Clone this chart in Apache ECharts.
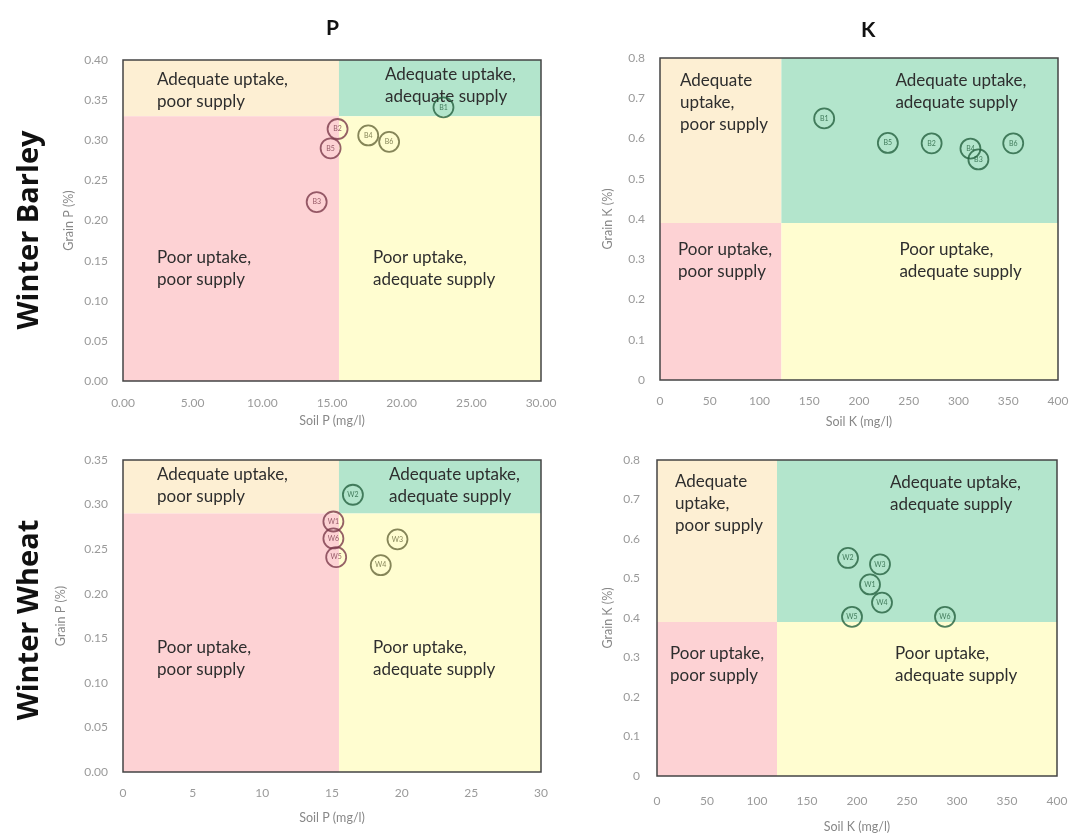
<!DOCTYPE html>
<html><head><meta charset="utf-8">
<script src="https://cdn.jsdelivr.net/npm/echarts@6/dist/echarts.min.js"></script>
<style>html,body{margin:0;padding:0;background:#fff}#c{width:1077px;height:837px}</style>
</head><body><div id="c"></div>
<script>
// ---- Data ----
const barleyLabels = ['B1','B2','B3','B4','B5','B6'];
const barleySoilP  = [23.0, 15.4, 13.9, 17.6, 14.9, 19.1];
const barleyGrainP = [0.341, 0.314, 0.223, 0.306, 0.290, 0.298];
const barleySoilK  = [165, 273, 320, 312, 229, 355];
const barleyGrainK = [0.650, 0.588, 0.548, 0.575, 0.589, 0.588];

const wheatLabelsP = ['W2','W1','W6','W5','W3','W4'];
const wheatSoilP   = [16.5, 15.1, 15.1, 15.3, 19.7, 18.5];
const wheatGrainP  = [0.311, 0.281, 0.262, 0.241, 0.261, 0.232];
const wheatLabelsK = ['W1','W2','W3','W4','W5','W6'];
const wheatSoilK   = [213, 191, 223, 225, 195, 288];
const wheatGrainK  = [0.485, 0.552, 0.536, 0.439, 0.403, 0.403];

// thresholds (supply, uptake) per panel
const thrBarleyP = [15.5, 0.33];
const thrBarleyK = [122, 0.39];
const thrWheatP  = [15.5, 0.29];
const thrWheatK  = [120, 0.39];

const axisP1 = {xmax: 30, xint: 5, ymax: 0.40, yint: 0.05};
const axisK  = {xmax: 400, xint: 50, ymax: 0.8, yint: 0.1};
const axisP2 = {xmax: 30, xint: 5, ymax: 0.35, yint: 0.05};

const regionText = {
  apBar: 'Adequate uptake,\npoor supply',
  apK: 'Adequate\nuptake,\npoor supply',
  aa: 'Adequate uptake,\nadequate supply',
  pp: 'Poor uptake,\npoor supply',
  pa: 'Poor uptake,\nadequate supply'
};

// ---- Styles ----
const C = {tan:'#fdefd3', green:'#b3e5cc', pink:'#fdd2d4', yellow:'#fffdd0'};
const SC = {green:'#24603f', pink:'#7a3a4a', yellow:'#66663a', tan:'#6a5a3a'};
const FONT = 'Lato, "Open Sans", sans-serif';

const grids = [
  {left:123, top:60,  width:418, height:321},
  {left:660, top:58,  width:398, height:322},
  {left:123, top:460, width:418, height:312},
  {left:657, top:460, width:400, height:316}
];

const panels = [
  {xs: barleySoilP, ys: barleyGrainP, labs: barleyLabels, thr: thrBarleyP, ax: axisP1,
   xfmt: v => v.toFixed(2), yfmt: v => v.toFixed(2), xname:'Soil P (mg/l)', yname:'Grain P (%)',
   xgap:33, ygap:48, xmargin:16, ymargin:15, tl: regionText.apBar,
   off: {tl:[34,9], tr:[46,4], bl:[34,130], br:[34,130]}},
  {xs: barleySoilK, ys: barleyGrainK, labs: barleyLabels, thr: thrBarleyK, ax: axisK,
   xfmt: v => String(v), yfmt: v => v === 0 ? '0' : v.toFixed(1), xname:'Soil K (mg/l)', yname:'Grain K (%)',
   xgap:35, ygap:46, xmargin:15, ymargin:15, tl: regionText.apK,
   off: {tl:[20,12], tr:[114,12], bl:[18,15], br:[118,15]}},
  {xs: wheatSoilP, ys: wheatGrainP, labs: wheatLabelsP, thr: thrWheatP, ax: axisP2,
   xfmt: v => String(v), yfmt: v => v.toFixed(2), xname:'Soil P (mg/l)', yname:'Grain P (%)',
   xgap:39, ygap:56, xmargin:15, ymargin:15, tl: regionText.apBar,
   off: {tl:[34,4], tr:[50,4], bl:[34,123], br:[34,123]}},
  {xs: wheatSoilK, ys: wheatGrainK, labs: wheatLabelsK, thr: thrWheatK, ax: axisK,
   xfmt: v => String(v), yfmt: v => v === 0 ? '0' : v.toFixed(1), xname:'Soil K (mg/l)', yname:'Grain K (%)',
   xgap:44, ygap:43, xmargin:19, ymargin:17, tl: regionText.apK,
   off: {tl:[18,11], tr:[113,12], bl:[13,21], br:[118,21]}}
];

const xAxes = [], yAxes = [], series = [];
const regionLabel = (txt, off) => ({
  show: true, position: 'insideTopLeft', distance: 0, offset: off,
  formatter: txt, color: '#2e2e2e', fontSize: 17, lineHeight: 22, fontFamily: FONT
});

panels.forEach((p, i) => {
  xAxes.push({
    gridIndex: i, type: 'value', min: 0, max: p.ax.xmax, interval: p.ax.xint,
    axisLine: {show: false}, axisTick: {show: false}, splitLine: {show: false},
    axisLabel: {formatter: p.xfmt, color: '#9a9a9a', fontSize: 12, fontFamily: FONT, margin: p.xmargin},
    name: p.xname, nameLocation: 'middle', nameGap: p.xgap,
    nameTextStyle: {color: '#888', fontSize: 12.5, fontFamily: FONT}
  });
  yAxes.push({
    gridIndex: i, type: 'value', min: 0, max: p.ax.ymax, interval: p.ax.yint,
    axisLine: {show: false}, axisTick: {show: false}, splitLine: {show: false},
    axisLabel: {formatter: p.yfmt, color: '#9a9a9a', fontSize: 12, fontFamily: FONT, margin: p.ymargin},
    name: p.yname, nameLocation: 'middle', nameGap: p.ygap,
    nameTextStyle: {color: '#888', fontSize: 12.5, fontFamily: FONT}
  });
  const [xb, yb] = p.thr;
  series.push({
    type: 'scatter', xAxisIndex: i, yAxisIndex: i, data: [], z: 1, silent: true,
    markArea: {
      silent: true,
      data: [
        [{xAxis: 0, yAxis: yb, itemStyle: {color: C.tan}, label: regionLabel(p.tl, p.off.tl)}, {xAxis: xb, yAxis: p.ax.ymax}],
        [{xAxis: xb, yAxis: yb, itemStyle: {color: C.green}, label: regionLabel(regionText.aa, p.off.tr)}, {xAxis: p.ax.xmax, yAxis: p.ax.ymax}],
        [{xAxis: 0, yAxis: 0, itemStyle: {color: C.pink}, label: regionLabel(regionText.pp, p.off.bl)}, {xAxis: xb, yAxis: yb}],
        [{xAxis: xb, yAxis: 0, itemStyle: {color: C.yellow}, label: regionLabel(regionText.pa, p.off.br)}, {xAxis: p.ax.xmax, yAxis: yb}]
      ]
    }
  });
  const pts = p.xs.map((x, k) => {
    const y = p.ys[k];
    const reg = (x >= xb) ? (y >= yb ? 'green' : 'yellow') : (y >= yb ? 'tan' : 'pink');
    return {
      value: [x, y], name: p.labs[k],
      itemStyle: {color: 'rgba(0,0,0,0)', borderColor: SC[reg], borderWidth: 1.8},
      label: {color: SC[reg]}
    };
  });
  series.push({
    type: 'scatter', xAxisIndex: i, yAxisIndex: i, z: 5, symbol: 'circle', symbolSize: 20,
    data: pts,
    label: {show: true, position: 'inside', formatter: d => d.name, fontSize: 7, fontFamily: FONT}
  });
});

const option = {
  animation: false,
  backgroundColor: '#fff',
  grid: grids.map(g => Object.assign({show: true, z: 10, backgroundColor: 'rgba(0,0,0,0)', borderColor: '#444', borderWidth: 1.5}, g)),
  xAxis: xAxes, yAxis: yAxes, series: series,
  graphic: [
    {type: 'text', left: 326, top: 18, style: {text: 'P', font: 'bold 21px ' + FONT, fill: '#111'}},
    {type: 'text', left: 861, top: 20, style: {text: 'K', font: 'bold 21px ' + FONT, fill: '#111'}},
    {type: 'text', x: 30, y: 230, rotation: Math.PI / 2,
     style: {text: 'Winter Barley', font: 'bold 29px "Open Sans", sans-serif', fill: '#111', align: 'center', verticalAlign: 'middle'}},
    {type: 'text', x: 30, y: 620, rotation: Math.PI / 2,
     style: {text: 'Winter Wheat', font: 'bold 29px "Open Sans", sans-serif', fill: '#111', align: 'center', verticalAlign: 'middle'}}
  ]
};
const chart = echarts.init(document.getElementById('c'));
chart.setOption(option);
</script></body></html>
